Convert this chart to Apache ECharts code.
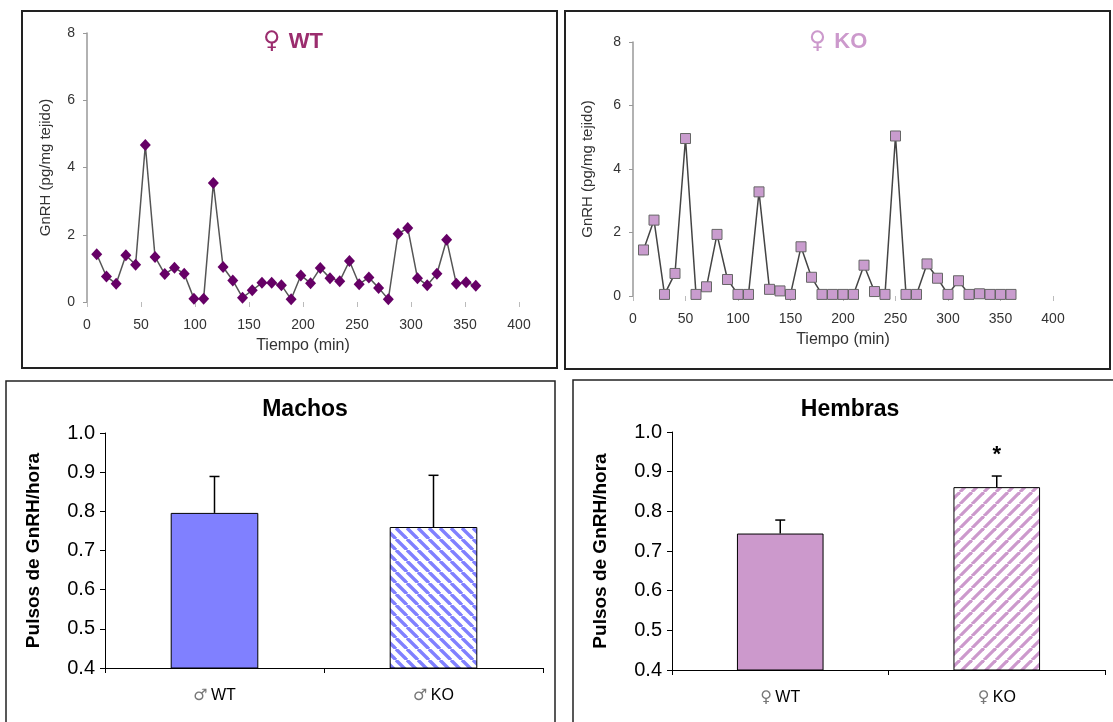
<!DOCTYPE html>
<html><head><meta charset="utf-8">
<script src="https://cdn.jsdelivr.net/npm/echarts@6/dist/echarts.min.js"></script>
<style>html,body{margin:0;padding:0;background:#fff}#c{width:1113px;height:722px}</style>
</head><body><div id="c"></div>
<script>
// ---- data ----
const wtTime = [9,18,27,36,45,54,63,72,81,90,99,108,117,126,135,144,153,162,171,180,189,198,207,216,225,234,243,252,261,270,279,288,297,306,315,324,333,342,351,360];
const wtGnRH = [1.42,0.76,0.54,1.39,1.11,4.67,1.34,0.83,1.02,0.84,0.1,0.1,3.54,1.04,0.64,0.13,0.35,0.57,0.57,0.5,0.08,0.79,0.56,1.01,0.71,0.62,1.22,0.53,0.73,0.42,0.08,2.03,2.2,0.71,0.5,0.84,1.85,0.54,0.59,0.48];
const koTime = [10,20,30,40,50,60,70,80,90,100,110,120,130,140,150,160,170,180,190,200,210,220,230,240,250,260,270,280,290,300,310,320,330,340,350,360];
const koGnRH = [1.45,2.39,0.05,0.71,4.96,0.05,0.29,1.94,0.52,0.05,0.05,3.28,0.21,0.16,0.05,1.55,0.59,0.05,0.05,0.05,0.05,0.97,0.14,0.05,5.04,0.05,0.05,1.01,0.56,0.05,0.48,0.05,0.07,0.05,0.05,0.05];
const maleSym = '\u2642', femaleSym = '\u2640';
const maleCats = ['WT', 'KO'];
const maleMean = [0.796, 0.760];
const maleErrTop = [0.889, 0.892];
const femaleCats = ['WT', 'KO'];
const femaleMean = [0.744, 0.861];
const femaleErrTop = [0.778, 0.889];
const femaleSig = ['', '*'];
const lineTitles = ['WT', 'KO'];
const barTitles = ['Machos', 'Hembras'];

// ---- helpers ----
function stripes(color, dir, lw, s){
  const c = document.createElement('canvas'); c.width = s; c.height = s;
  const g = c.getContext('2d'); g.fillStyle = '#fff'; g.fillRect(0,0,s,s);
  g.strokeStyle = color; g.lineWidth = lw;
  for (let k = -1; k <= 1; k++) {
    g.beginPath();
    if (dir === 'down') { g.moveTo(k*s, 0); g.lineTo(k*s + s, s); }
    else { g.moveTo(k*s, s); g.lineTo(k*s + s, 0); }
    g.stroke();
  }
  return c;
}
const FONT = 'Liberation Sans, Arial, DejaVu Sans, sans-serif';
function errRender(sig){
  return function(params, api){
    const b = api.coord([api.value(0), api.value(1)]);
    const t = api.coord([api.value(0), api.value(2)]);
    const st = {stroke:'#000', lineWidth:1.5};
    const ch = [
      {type:'line', shape:{x1:b[0], y1:b[1], x2:t[0], y2:t[1]}, style:st},
      {type:'line', shape:{x1:t[0]-5, y1:t[1], x2:t[0]+5, y2:t[1]}, style:st}
    ];
    if (sig && sig[params.dataIndex]) {
      ch.push({type:'text', x:t[0], y:t[1]-21, style:{text:sig[params.dataIndex], fill:'#000', font:'bold 22px '+FONT, align:'center', verticalAlign:'middle'}});
    }
    return {type:'group', children:ch};
  };
}

const chart = echarts.init(document.getElementById('c'));
const lineX = (gi, nameGap) => ({
  type:'value', gridIndex:gi, min:0, max:400, interval:50,
  name:'Tiempo (min)', nameLocation:'middle', nameGap:nameGap,
  nameTextStyle:{fontSize:16, color:'#333', fontFamily:FONT},
  axisLine:{show:false}, axisTick:{show:true, length:5, lineStyle:{color:'#bbb'}},
  splitLine:{show:false},
  axisLabel:{fontSize:14, color:'#333', margin:16, fontFamily:FONT}
});
const lineY = (gi, nameGap) => ({
  type:'value', gridIndex:gi, min:0, max:8, interval:2,
  name:'GnRH (pg/mg tejido)', nameLocation:'middle', nameGap:nameGap,
  nameTextStyle:{fontSize:15, color:'#333', fontFamily:FONT},
  axisLine:{show:true, lineStyle:{color:'#999', width:1.5}},
  axisTick:{show:true, length:4, lineStyle:{color:'#999'}},
  splitLine:{show:false},
  axisLabel:{fontSize:14, color:'#333', margin:12, fontFamily:FONT}
});
const barX = (gi, cats, sym) => ({
  type:'category', gridIndex:gi, data:cats, boundaryGap:true,
  axisLine:{lineStyle:{color:'#000', width:1}},
  axisTick:{show:true, length:5, lineStyle:{color:'#000'}},
  axisLabel:{margin:20, formatter:v => '{s|' + sym + '} {t|' + v + '}',
    rich:{s:{fontSize:16, color:'#777', fontFamily:'DejaVu Sans'}, t:{fontSize:16, color:'#000', fontFamily:FONT}}}
});
const barY = (gi) => ({
  type:'value', gridIndex:gi, min:0.4, max:1.0, interval:0.1,
  name:'Pulsos de GnRH/hora', nameLocation:'middle', nameGap:62,
  nameTextStyle:{fontSize:19, fontWeight:'bold', color:'#000', fontFamily:FONT},
  axisLine:{show:true, lineStyle:{color:'#000', width:1}},
  axisTick:{show:true, length:5, lineStyle:{color:'#000'}},
  splitLine:{show:false},
  axisLabel:{fontSize:20, color:'#000', margin:10, fontFamily:FONT, formatter:v => v.toFixed(1)}
});

const maleColor = '#8080ff', femaleColor = '#cc99cc';
const titleRich = (col) => ({
  s:{fontSize:24, fill:col, fontFamily:'DejaVu Sans', fontWeight:'normal', padding:[0,8,0,0]},
  t:{fontSize:22, fill:col, fontFamily:FONT, fontWeight:'bold'}
});
const option = {
  animation:false,
  backgroundColor:'#fff',
  grid:[
    {left:87, right:594, top:33, bottom:420},
    {left:633, right:60, top:42, bottom:426},
    {left:105, right:570, top:433, bottom:54},
    {left:672, right:8, top:432, bottom:52}
  ],
  xAxis:[ lineX(0, 36), lineX(1, 36), barX(2, maleCats, maleSym), barX(3, femaleCats, femaleSym) ],
  yAxis:[ lineY(0, 34), lineY(1, 38), barY(2), barY(3) ],
  series:[
    {type:'line', xAxisIndex:0, yAxisIndex:0, data:wtTime.map((t,i)=>[t, wtGnRH[i]]),
     lineStyle:{color:'#555', width:1.5}, symbol:'diamond', symbolSize:[11,12],
     itemStyle:{color:'#660066'}},
    {type:'line', xAxisIndex:1, yAxisIndex:1, data:koTime.map((t,i)=>[t, koGnRH[i]]),
     lineStyle:{color:'#444', width:1.5}, symbol:'rect', symbolSize:10,
     itemStyle:{color:'#c99cce', borderColor:'#666', borderWidth:1}},
    {type:'bar', xAxisIndex:2, yAxisIndex:2, barWidth:'40%',
     data:[
       {value:maleMean[0], itemStyle:{color:maleColor, borderColor:'#000', borderWidth:1}},
       {value:maleMean[1], itemStyle:{color:{image:stripes(maleColor,'down',3.4,11), repeat:'repeat'}, borderColor:'#000', borderWidth:1}}
     ]},
    {type:'custom', xAxisIndex:2, yAxisIndex:2, z:5, renderItem:errRender(null),
     data:maleCats.map((c,i)=>[i, maleMean[i], maleErrTop[i]])},
    {type:'bar', xAxisIndex:3, yAxisIndex:3, barWidth:'40%',
     data:[
       {value:femaleMean[0], itemStyle:{color:femaleColor, borderColor:'#000', borderWidth:1}},
       {value:femaleMean[1], itemStyle:{color:{image:stripes(femaleColor,'up',3.2,12), repeat:'repeat'}, borderColor:'#000', borderWidth:1}}
     ]},
    {type:'custom', xAxisIndex:3, yAxisIndex:3, z:5, renderItem:errRender(femaleSig),
     data:femaleCats.map((c,i)=>[i, femaleMean[i], femaleErrTop[i]])}
  ],
  graphic:[
    {type:'rect', shape:{x:22, y:11, width:535, height:357}, style:{fill:'none', stroke:'#222', lineWidth:2}, silent:true},
    {type:'rect', shape:{x:565, y:11, width:545, height:358}, style:{fill:'none', stroke:'#222', lineWidth:2}, silent:true},
    {type:'rect', shape:{x:6, y:381, width:549, height:345}, style:{fill:'none', stroke:'#222', lineWidth:1.5}, silent:true},
    {type:'rect', shape:{x:573, y:380, width:545, height:346}, style:{fill:'none', stroke:'#222', lineWidth:1.5}, silent:true},
    {type:'text', x:293, y:42, style:{text:'{s|' + femaleSym + '}{t|' + lineTitles[0] + '}', rich:titleRich('#9b2d6e'), fill:'#9b2d6e', align:'center', verticalAlign:'middle'}},
    {type:'text', x:838, y:42, style:{text:'{s|' + femaleSym + '}{t|' + lineTitles[1] + '}', rich:titleRich('#cc99cc'), fill:'#cc99cc', align:'center', verticalAlign:'middle'}},
    {type:'text', x:305, y:410, style:{text:barTitles[0], fill:'#000', font:'bold 23px '+FONT, align:'center', verticalAlign:'middle'}},
    {type:'text', x:850, y:410, style:{text:barTitles[1], fill:'#000', font:'bold 23px '+FONT, align:'center', verticalAlign:'middle'}}
  ]
};
chart.setOption(option);
</script></body></html>
